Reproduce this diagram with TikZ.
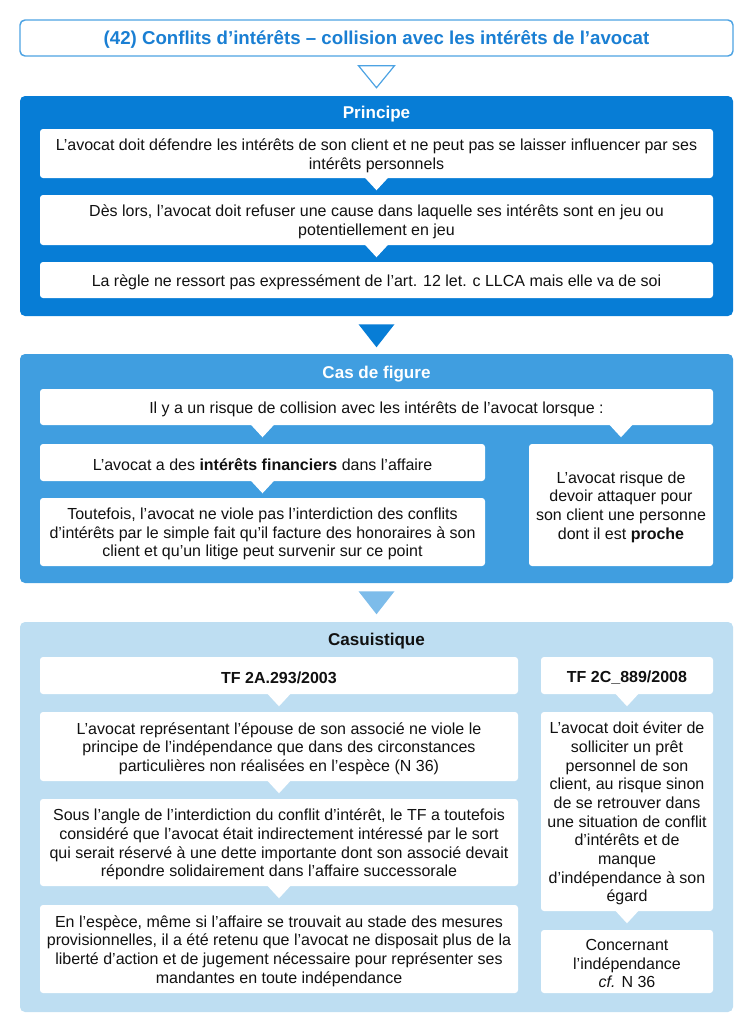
\documentclass[tikz,border=0pt]{standalone}
\usepackage{fontspec}
\setmainfont{Liberation Sans}
\usetikzlibrary{fit,calc}
\definecolor{cPrin}{HTML}{077DD6}
\definecolor{cCas}{HTML}{409EE0}
\definecolor{cCasu}{HTML}{BEDEF2}
\definecolor{cTri}{HTML}{7DBCEA}
\definecolor{tborder}{HTML}{4DA3E3}
\definecolor{ttext}{HTML}{1A7FD3}
\definecolor{txt}{HTML}{111111}
\newcommand{\notchbelow}[1]{\fill[white] ($(#1)+(-12,-1)$) -- ($(#1)+(12,-1)$) -- ($(#1)+(0,12)$) -- cycle;}
\begin{document}
\begin{tikzpicture}[x=0.75pt,y=-0.75pt,
  section/.style={inner sep=0pt, rounded corners=3.75pt, draw=none},
  sectitle/.style={font=\bfseries\fontsize{12.8}{15}\selectfont, inner sep=0pt},
  inbox/.style={fill=white, inner sep=0pt, rounded corners=2.25pt},
  intext/.style={inner sep=0pt, align=center, yshift=-1.5pt,
    font=\fontsize{12}{14}\selectfont, text=txt},
  tftext/.style={intext, font=\bfseries\fontsize{12}{14}\selectfont},
]
\useasboundingbox (0,0) rectangle (752,1032);

% title
\node[fit={(20,20)(733,56)}, draw=tborder, line width=1.1pt, fill=white,
  rounded corners=3.75pt, inner sep=0pt] (title) {};
\node[inner sep=0pt, font=\bfseries\fontsize{14}{16}\selectfont, text=ttext] (titleT)
  at ($(title.center)+(0,1)$) {(42) Conflits d’intérêts – collision avec les intérêts de l’avocat};

% Principe
\node[section, fill=cPrin, fit={(20,96)(733,316)}] (prin) {};
\node[sectitle, text=white] (prinT) at ($(prin.north)+(0,18)$) {Principe};
\node[inbox, fit={(40,129)(713,178)}] (p1) {};
\node[intext] at (p1.center) {L’avocat doit défendre les intérêts de son client et ne peut pas se laisser influencer par ses\\intérêts personnels};
\node[inbox, fit={(40,195)(713,245)}] (p2) {};
\node[intext] at (p2.center) {Dès lors, l’avocat doit refuser une cause dans laquelle ses intérêts sont en jeu ou\\potentiellement en jeu};
\node[inbox, fit={(40,262)(713,298)}] (p3) {};
\node[intext] at (p3.center) {La règle ne ressort pas expressément de l’art. 12 let. c LLCA mais elle va de soi};
\notchbelow{p1.south}
\notchbelow{p2.south}

% open triangle title -> Principe
\draw[tborder, line width=0.9pt, fill=white, line join=miter]
  ($(title.south)+(-18,9)$) -- ($(title.south)+(18,9)$) -- ($(title.south)+(0,31)$) -- cycle;

% Cas de figure
\node[section, fill=cCas, fit={(20,354)(733,583)}] (cas) {};
\node[sectitle, text=white] (casT) at ($(cas.north)+(0,20)$) {Cas de figure};
\node[inbox, fit={(40,389)(713,425)}] (il) {};
\node[intext] at (il.center) {Il y a un risque de collision avec les intérêts de l’avocat lorsque :};
\node[inbox, fit={(40,444)(485,481)}] (fin) {};
\node[intext] at (fin.center) {L’avocat a des \textbf{intérêts financiers} dans l’affaire};
\node[inbox, fit={(40,498)(485,566)}] (tout) {};
\node[intext] at (tout.center) {Toutefois, l’avocat ne viole pas l’interdiction des conflits\\d’intérêts par le simple fait qu’il facture des honoraires à son\\client et qu’un litige peut survenir sur ce point};
\node[inbox, fit={(529,444)(713,566)}] (proche) {};
\node[intext] at (proche.center) {L’avocat risque de\\devoir attaquer pour\\son client une personne\\dont il est \textbf{proche}};
\notchbelow{fin.north |- il.south}
\notchbelow{proche.north |- il.south}
\notchbelow{fin.south}

\fill[cPrin] ($(prin.south)+(-18,8)$) -- ($(prin.south)+(18,8)$) -- ($(prin.south)+(0,31)$) -- cycle;

% Casuistique
\node[section, fill=cCasu, fit={(20,622)(733,1012)}] (casu) {};
\node[sectitle, text=txt] (casuT) at ($(casu.north)+(0,19)$) {Casuistique};
\node[inbox, fit={(40,657)(518,694)}] (tf1) {};
\node[tftext] at (tf1.center) {TF 2A.293/2003};
\node[inbox, fit={(541,657)(713,694)}] (tf2) {};
\node[tftext] at (tf2.center) {TF 2C\_889/2008};
\node[inbox, fit={(40,712)(518,781)}] (rep) {};
\node[intext] at (rep.center) {L’avocat représentant l’épouse de son associé ne viole le\\principe de l’indépendance que dans des circonstances\\particulières non réalisées en l’espèce (N 36)};
\node[inbox, fit={(40,799)(518,886)}] (sous) {};
\node[intext] at (sous.center) {Sous l’angle de l’interdiction du conflit d’intérêt, le TF a toutefois\\considéré que l’avocat était indirectement intéressé par le sort\\qui serait réservé à une dette importante dont son associé devait\\répondre solidairement dans l’affaire successorale};
\node[inbox, fit={(40,905)(518,993)}] (esp) {};
\node[intext] at (esp.center) {En l’espèce, même si l’affaire se trouvait au stade des mesures\\provisionnelles, il a été retenu que l’avocat ne disposait plus de la\\liberté d’action et de jugement nécessaire pour représenter ses\\mandantes en toute indépendance};
\node[inbox, fit={(541,712)(713,911)}] (evit) {};
\node[intext] at (evit.center) {L’avocat doit éviter de\\solliciter un prêt\\personnel de son\\client, au risque sinon\\de se retrouver dans\\une situation de conflit\\d’intérêts et de\\manque\\d’indépendance à son\\égard};
\node[inbox, fit={(541,930)(713,993)}] (conc) {};
\node[intext] at (conc.center) {Concernant\\l’indépendance\\\textit{cf.} N 36};
\notchbelow{tf1.south}
\notchbelow{rep.south}
\notchbelow{sous.south}
\notchbelow{tf2.south}
\notchbelow{evit.south}

\fill[cTri] ($(cas.south)+(-18,8)$) -- ($(cas.south)+(18,8)$) -- ($(cas.south)+(0,31)$) -- cycle;
\end{tikzpicture}
\end{document}
